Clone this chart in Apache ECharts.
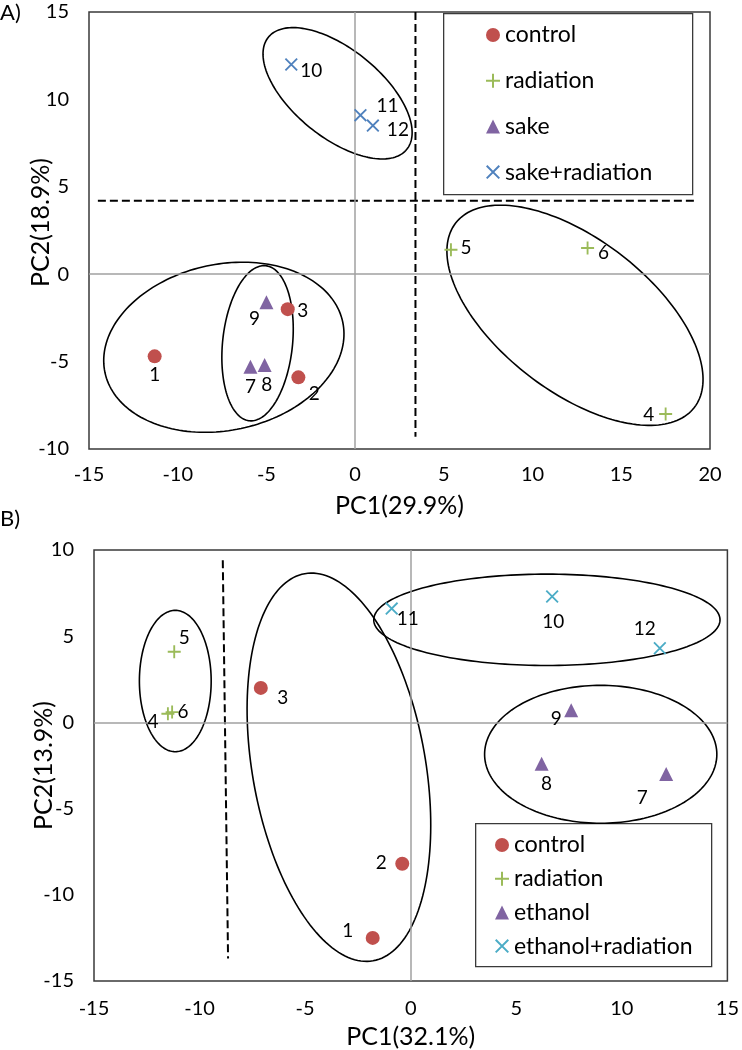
<!DOCTYPE html>
<html><head><meta charset="utf-8">
<script src="https://cdn.jsdelivr.net/npm/echarts@6/dist/echarts.min.js"></script>
<style>html,body{margin:0;padding:0;background:#fff}#c{width:742px;height:1050px}</style>
</head><body><div id="c"></div>
<script>
// ---------- Panel A data ----------
const aControlX = [-11.3, -3.2, -3.8];
const aControlY = [-4.7, -5.9, -2.0];
const aControlIds = ['1', '2', '3'];
const aRadX = [17.5, 5.4, 13.1];
const aRadY = [-8.0, 1.4, 1.5];
const aRadIds = ['4', '5', '6'];
const aSakeX = [-5.9, -5.1, -5.0];
const aSakeY = [-5.3, -5.2, -1.6];
const aSakeIds = ['7', '8', '9'];
const aSakeRadX = [-3.6, 0.3, 1.0];
const aSakeRadY = [12.0, 9.1, 8.5];
const aSakeRadIds = ['10', '11', '12'];
const aXTicks = [-15, 20, 5];   // min, max, step
const aYTicks = [-10, 15, 5];
const aXName = 'PC1(29.9%)';
const aYName = 'PC2(18.9%)';
const aLegend = ['control', 'radiation', 'sake', 'sake+radiation'];
// dashed separators [x1,y1,x2,y2]
const aDashV = [3.4, 15, 3.4, -9.3];
const aDashH = [-14.5, 4.2, 19.3, 4.2];
// ellipses: cx, cy, semi-axis (x units), semi-axis (y units), rotation deg
const aEllSakeRad = [-0.99, 10.35, 5.02, 2.52, 39];
const aEllRad = [12.39, -2.35, 8.5, 4.35, 37.7];
const aEllControl = [-7.4, -4.18, 6.85, 4.75, -12];
const aEllSake = [-5.5, -3.95, 1.97, 4.46, 6];

// ---------- Panel B data ----------
const bControlX = [-1.8, -0.4, -7.1];
const bControlY = [-12.5, -8.2, 2.0];
const bControlIds = ['1', '2', '3'];
const bRadX = [-11.5, -11.2, -11.3];
const bRadY = [0.5, 4.1, 0.6];
const bRadIds = ['4', '5', '6'];
const bEthX = [12.1, 6.2, 7.6];
const bEthY = [-3.0, -2.4, 0.7];
const bEthIds = ['7', '8', '9'];
const bEthRadX = [6.7, -0.9, 11.8];
const bEthRadY = [7.3, 6.6, 4.3];
const bEthRadIds = ['10', '11', '12'];
const bXTicks = [-15, 15, 5];
const bYTicks = [-15, 10, 5];
const bXName = 'PC1(32.1%)';
const bYName = 'PC2(13.9%)';
const bLegend = ['control', 'radiation', 'ethanol', 'ethanol+radiation'];
const bDash = [-8.9, 9.4, -8.65, -13.7];
const bEllRad = [-11.15, 2.4, 1.7, 4.1, 0];
const bEllControl = [-3.4, -2.6, 4.1, 11.4, -10];
const bEllEthRad = [6.45, 5.95, 8.2, 2.65, 0];
const bEllEth = [9.0, -1.85, 5.5, 4.0, 0];

// ---------- styling ----------
const FONT = 'Lato, "Open Sans", sans-serif';
const C_RED = '#C0504D', C_GREEN = '#9BBB59', C_PURPLE = '#8064A2', C_BLUE = '#4F81BD', C_CYAN = '#4BACC6';
const PLUS = 'path://M6,0H8V14H6Z M0,6H14V8H0Z';
const CROSS = 'path://M0,1.4L1.4,0L14,12.6L12.6,14Z M12.6,0L14,1.4L1.4,14L0,12.6Z';

// label offsets (px) relative to marker centre
const labOffA = {
  control: [[0, 19], [16, 17], [15, 2]],
  radiation: [[-17, 1], [15, -2], [16, 5]],
  sake: [[0, 20], [2, 20], [-12, 17]],
  sakeRad: [[20, 6], [27, -9], [25, 4]]
};
const labOffB = {
  control: [[-25, -7], [-21, -1], [22, 10]],
  radiation: [[-15, 8], [10, -14], [11, 0]],
  ethanol: [[-24, 24], [5, 20], [-15, 9]],
  ethRad: [[1, 25], [16, 10], [-15, -19]]
};

function pts(xs, ys, ids, offs) {
  return xs.map((x, i) => ({
    value: [x, ys[i], ids[i]],
    label: { offset: offs[i] }
  }));
}

function scatter(name, xs, ys, ids, offs, symbol, size, color, gi) {
  return {
    type: 'scatter', name: name, xAxisIndex: gi, yAxisIndex: gi,
    symbol: symbol, symbolSize: size, z: 5,
    itemStyle: { color: color, opacity: 1 },
    data: pts(xs, ys, ids, offs),
    label: {
      show: true, position: 'inside', formatter: p => p.value[2],
      color: '#000', fontSize: 19, fontFamily: FONT
    },
    emphasis: { disabled: true }
  };
}

function ellipse(e, gi) {
  return {
    type: 'custom', xAxisIndex: gi, yAxisIndex: gi, silent: true, z: 3, clip: false,
    data: [e],
    renderItem: (params, api) => {
      const c = api.coord([api.value(0), api.value(1)]);
      const s = api.size([1, 1]);
      const a = api.value(2) * s[0], b = api.value(3) * s[1];
      const th = api.value(4) * Math.PI / 180;
      const p = [];
      for (let i = 0; i < 180; i++) {
        const t = i / 180 * 2 * Math.PI;
        const u = a * Math.cos(t), v = b * Math.sin(t);
        p.push([c[0] + u * Math.cos(th) - v * Math.sin(th), c[1] + u * Math.sin(th) + v * Math.cos(th)]);
      }
      return { type: 'polygon', shape: { points: p }, style: { fill: 'transparent', stroke: '#000', lineWidth: 1.6 } };
    }
  };
}

function dashLine(d, gi, zero) {
  const s = {
    type: 'line', xAxisIndex: gi, yAxisIndex: gi, silent: true, z: 4,
    symbol: 'none', data: [[d[0], d[1]], [d[2], d[3]]],
    lineStyle: { color: '#000', width: 2, type: [8, 4] }
  };
  if (zero) {
    s.markLine = {
      silent: true, symbol: 'none', label: { show: false },
      lineStyle: { color: '#a0a0a0', width: 1.5, type: 'solid' },
      data: [{ xAxis: 0 }, { yAxis: 0 }]
    };
  }
  return s;
}

function xAxis(gi, t, name, margin, gap) {
  return {
    type: 'value', gridIndex: gi, min: t[0], max: t[1], interval: t[2],
    axisLine: { show: false }, axisTick: { show: false }, splitLine: { show: false },
    axisLabel: { color: '#000', fontSize: 20, fontFamily: FONT, margin: margin },
    name: name, nameLocation: 'middle', nameGap: gap,
    nameTextStyle: { color: '#000', fontSize: 25, fontFamily: FONT }
  };
}
function yAxis(gi, t, name, gap, pad) {
  return {
    type: 'value', gridIndex: gi, min: t[0], max: t[1], interval: t[2],
    axisLine: { show: false }, axisTick: { show: false }, splitLine: { show: false },
    axisLabel: { color: '#000', fontSize: 20, fontFamily: FONT, margin: 20 },
    name: name, nameLocation: 'middle', nameGap: gap, nameRotate: 90, nameMoveOverlap: false,
    nameTextStyle: { color: '#000', fontSize: 25, fontFamily: FONT, padding: pad }
  };
}

const icons = { circle: 'circle', plus: PLUS, tri: 'triangle', cross: CROSS };

const option = {
  animation: false,
  backgroundColor: '#fff',
  grid: [
    { left: 89, top: 12, width: 621, height: 437, show: true, borderColor: '#3a3a3a', borderWidth: 1.5, backgroundColor: 'transparent' },
    { left: 94, top: 550, width: 638, height: 433, show: true, borderColor: '#3a3a3a', borderWidth: 1.5, backgroundColor: 'transparent' }
  ],
  xAxis: [xAxis(0, aXTicks, aXName, 16, 44), xAxis(1, bXTicks, bXName, 18, 43)],
  yAxis: [yAxis(0, aYTicks, aYName, 36, [0, 0, 0, 16]), yAxis(1, bYTicks, bYName, 38, 0)],
  legend: [
    {
      left: 486, top: 23, orient: 'vertical', padding: 0, itemWidth: 14, itemHeight: 14, itemGap: 21.7,
      selectedMode: false,
      textStyle: { fontSize: 23, lineHeight: 24, fontFamily: FONT, color: '#000' },
      data: [
        { name: aLegend[0], icon: icons.circle, itemStyle: { color: C_RED } },
        { name: aLegend[1], icon: icons.plus, itemStyle: { color: C_GREEN } },
        { name: aLegend[2], icon: icons.tri, itemStyle: { color: C_PURPLE } },
        { name: aLegend[3], icon: icons.cross, itemStyle: { color: C_BLUE } }
      ]
    },
    {
      left: 495, top: 833, orient: 'vertical', padding: 0, itemWidth: 14, itemHeight: 14, itemGap: 9.7,
      selectedMode: false,
      textStyle: { fontSize: 23, lineHeight: 24, fontFamily: FONT, color: '#000' },
      data: [
        { name: bLegend[0], icon: icons.circle, itemStyle: { color: C_RED } },
        { name: bLegend[1], icon: icons.plus, itemStyle: { color: C_GREEN } },
        { name: bLegend[2], icon: icons.tri, itemStyle: { color: C_PURPLE } },
        { name: bLegend[3], icon: icons.cross, itemStyle: { color: C_CYAN } }
      ]
    }
  ],
  graphic: [
    { type: 'rect', left: 443, top: 13, shape: { width: 249, height: 181 }, style: { fill: '#fff', stroke: '#3a3a3a', lineWidth: 1.3 }, z: 1 },
    { type: 'rect', left: 475, top: 823, shape: { width: 236, height: 143 }, style: { fill: '#fff', stroke: '#3a3a3a', lineWidth: 1.3 }, z: 1 },
    { type: 'text', left: 0, top: 2, style: { text: 'A)', fontSize: 22, fontFamily: FONT, fill: '#000' } },
    { type: 'text', left: 0, top: 508, style: { text: 'B)', fontSize: 22, fontFamily: FONT, fill: '#000' } }
  ],
  series: [
    dashLine(aDashV, 0, true),
    dashLine(aDashH, 0, false),
    ellipse(aEllSakeRad, 0), ellipse(aEllRad, 0), ellipse(aEllControl, 0), ellipse(aEllSake, 0),
    scatter(aLegend[0], aControlX, aControlY, aControlIds, labOffA.control, 'circle', 14, C_RED, 0),
    scatter(aLegend[1], aRadX, aRadY, aRadIds, labOffA.radiation, PLUS, 13, C_GREEN, 0),
    scatter(aLegend[2], aSakeX, aSakeY, aSakeIds, labOffA.sake, 'triangle', 14, C_PURPLE, 0),
    scatter(aLegend[3], aSakeRadX, aSakeRadY, aSakeRadIds, labOffA.sakeRad, CROSS, 13, C_BLUE, 0),

    dashLine(bDash, 1, true),
    ellipse(bEllRad, 1), ellipse(bEllControl, 1), ellipse(bEllEthRad, 1), ellipse(bEllEth, 1),
    scatter(bLegend[0], bControlX, bControlY, bControlIds, labOffB.control, 'circle', 14, C_RED, 1),
    scatter(bLegend[1], bRadX, bRadY, bRadIds, labOffB.radiation, PLUS, 13, C_GREEN, 1),
    scatter(bLegend[2], bEthX, bEthY, bEthIds, labOffB.ethanol, 'triangle', 14, C_PURPLE, 1),
    scatter(bLegend[3], bEthRadX, bEthRadY, bEthRadIds, labOffB.ethRad, CROSS, 13, C_CYAN, 1)
  ]
};

const chart = echarts.init(document.getElementById('c'), null, { renderer: 'canvas' });
chart.setOption(option);
</script>
</body></html>
